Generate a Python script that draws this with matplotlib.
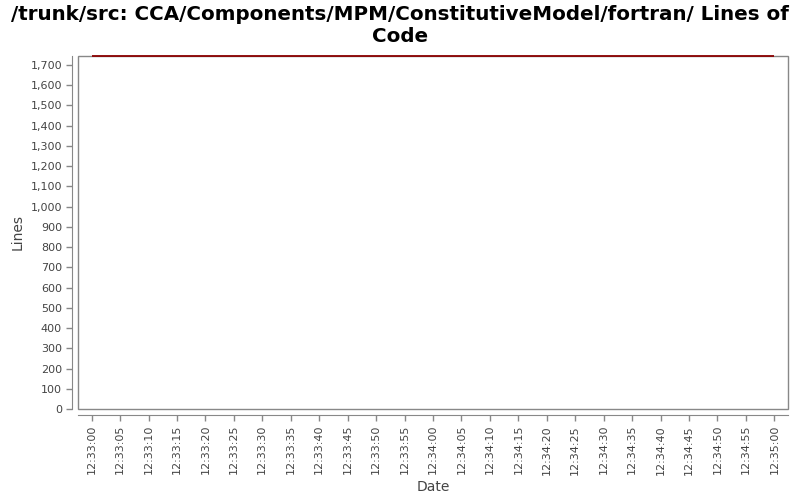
import numpy as np
import matplotlib
matplotlib.use("Agg")
import matplotlib.pyplot as plt
import matplotlib.dates as mdates
from matplotlib.patches import Rectangle
from matplotlib.ticker import FuncFormatter, MultipleLocator
from datetime import datetime, timedelta

# Lines of code over the sampled time span
dates = [datetime(2000, 1, 1, 12, 33, 0), datetime(2000, 1, 1, 12, 35, 0)]
lines = [1744, 1744]

fig = plt.figure(figsize=(8, 5), dpi=100)
ax = fig.add_axes([78 / 800, 91 / 500, 710 / 800, 353 / 500])

# Plot outline plus axes pushed slightly outward
ax.add_patch(Rectangle((0, 0), 1, 1, transform=ax.transAxes, fill=False,
                       ec="#888888", lw=1, clip_on=False, zorder=5))

ax.plot(dates, lines, color="#8b0000", lw=1.3, solid_capstyle="butt",
        clip_on=False, zorder=6)

pad = timedelta(seconds=2.4)
ax.set_xlim(dates[0] - pad, dates[-1] + pad)
ax.set_ylim(0, max(lines))

for side in ("top", "right"):
    ax.spines[side].set_visible(False)
for side in ("left", "bottom"):
    ax.spines[side].set_position(("outward", 4))
    ax.spines[side].set_color("#888888")

ax.yaxis.set_major_locator(MultipleLocator(100))
ax.yaxis.set_major_formatter(FuncFormatter(lambda v, p: f"{int(v):,}"))
ax.xaxis.set_major_locator(mdates.SecondLocator(bysecond=range(0, 60, 5)))
ax.xaxis.set_major_formatter(mdates.DateFormatter("%H:%M:%S"))

ax.tick_params(axis="both", colors="#888888", labelcolor="#444444",
               labelsize=8, length=4, width=1)
plt.setp(ax.get_xticklabels(), rotation=90)

ax.set_xlabel("Date", fontsize=10, color="#444444")
ax.set_ylabel("Lines", fontsize=10, color="#444444")

fig.suptitle("/trunk/src: CCA/Components/MPM/ConstitutiveModel/fortran/ Lines of\nCode",
             fontsize=14.3, fontweight="bold", y=0.99, linespacing=1.2)

fig.savefig("out.png", dpi=100)
